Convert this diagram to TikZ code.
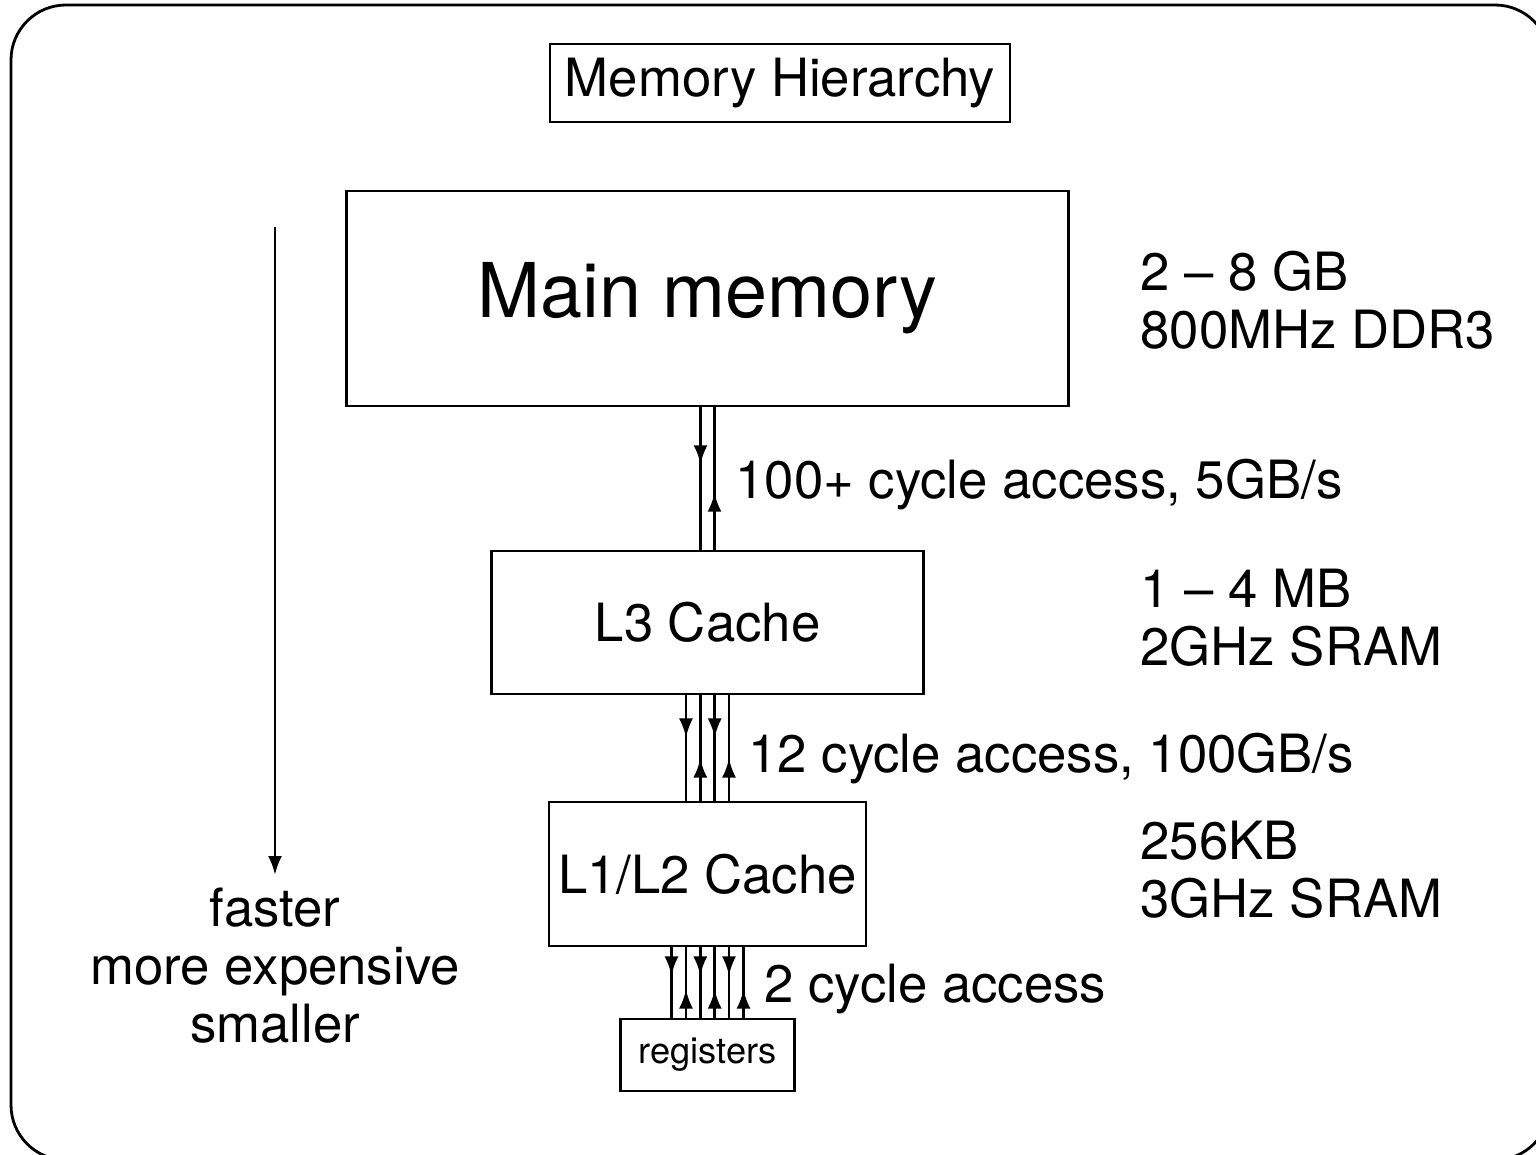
\documentclass[tikz,border=0pt]{standalone}
\usepackage{fontspec}
\setmainfont{TeX Gyre Heros}
\usetikzlibrary{arrows.meta,decorations.markings}
\begin{document}
\begin{tikzpicture}
\tikzstyle{box}=[draw, line width=0.8pt, rectangle, inner sep=0.05cm, font=\fontsize{15}{16.5}\selectfont]
\tikzstyle{info}=[anchor=west, align=left, font=\fontsize{15}{16.5}\selectfont]
\tikzstyle{note}=[align=center, font=\fontsize{15}{16.5}\selectfont]
\tikzstyle{link}=[draw, line width=0.8pt, decoration={markings, mark=at position 0.4 with {\arrow{Latex[length=1.9mm,width=1.4mm]}}}, postaction={decorate}]

\useasboundingbox (0,0) rectangle (15.36,-11.55);

% Frame
\draw[line width=0.8pt, rounded corners=0.55cm] (0.11,-0.05) rectangle (15.50,-11.60);

% Define boxes
\node[box, minimum width=4.6cm, minimum height=0.78cm] (title) at (7.80,-0.83) {Memory Hierarchy};
\node[box, minimum width=7.22cm, minimum height=2.15cm, font=\fontsize{21.5}{24}\selectfont] (mainmem) at (7.075,-2.985) {Main memory};
\node[box, minimum width=4.32cm, minimum height=1.43cm] (lthree) at (7.075,-6.225) {L3 Cache};
\node[box, minimum width=3.17cm, minimum height=1.44cm] (lone) at (7.075,-8.74) {L1/L2 Cache};
\node[box, minimum width=1.74cm, minimum height=0.72cm, font=\fontsize{10.3}{12}\selectfont] (regs) at (7.075,-10.55) {registers};

% Sizes and speeds
\node[info] (mainspec) at (11.28,-3.0) {2 -- 8 GB\\800MHz DDR3};
\node[info] (lthreespec) at (11.28,-6.18) {1 -- 4 MB\\2GHz SRAM};
\node[info] (lonespec) at (11.28,-8.70) {256KB\\3GHz SRAM};

% Links
\draw[link] ([xshift=-0.07cm]mainmem.south) -- ([xshift=-0.07cm]lthree.north);
\draw[link] ([xshift=0.07cm]lthree.north) -- ([xshift=0.07cm]mainmem.south);
\foreach \dx in {-0.215,0.072}
  \draw[link] ([xshift=\dx cm]lthree.south) -- ([xshift=\dx cm]lone.north);
\foreach \dx in {-0.072,0.215}
  \draw[link] ([xshift=\dx cm]lone.north) -- ([xshift=\dx cm]lthree.south);
\foreach \dx in {-0.36,-0.072,0.215}
  \draw[link] ([xshift=\dx cm]lone.south) -- ([xshift=\dx cm]regs.north);
\foreach \dx in {-0.215,0.072,0.36}
  \draw[link] ([xshift=\dx cm]regs.north) -- ([xshift=\dx cm]lone.south);

% Link labels
\node[info] (mainlink) at (7.23,-4.85) {100+ cycle access, 5GB/s};
\node[info] (lthreelink) at (7.36,-7.59) {12 cycle access, 100GB/s};
\node[info] (lonelink) at (7.52,-9.89) {2 cycle access};

% Trend arrow
\coordinate (trendtop) at (2.75,-2.27);
\node[note] (trend) at (2.75,-9.66) {faster\\more expensive\\smaller};
\draw[line width=0.8pt, -{Latex[length=1.9mm,width=1.4mm]}] (trendtop) -- (2.75,-8.75);
\end{tikzpicture}
\end{document}
